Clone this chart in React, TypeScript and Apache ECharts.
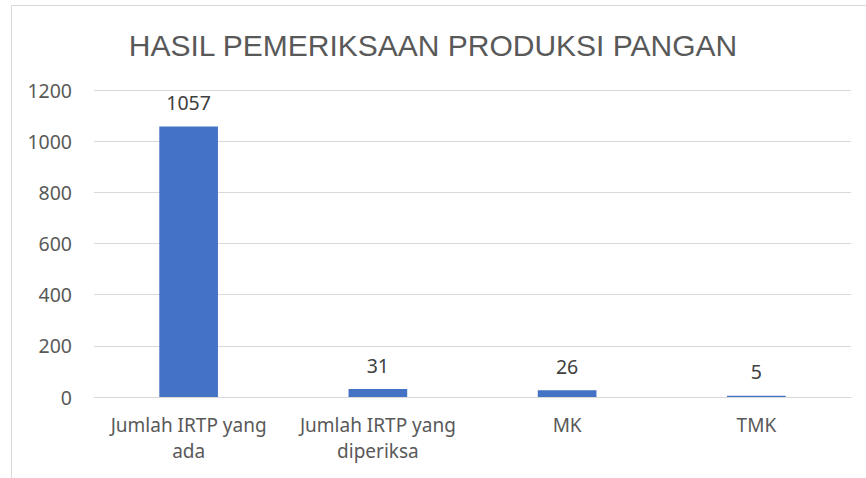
import React, { useEffect, useRef } from "react";
import * as echarts from "echarts";

const title = "HASIL PEMERIKSAAN PRODUKSI PANGAN";
const categories = ["Jumlah IRTP yang\nada", "Jumlah IRTP yang\ndiperiksa", "MK", "TMK"];
const values = [1057, 31, 26, 5];
const yTicks = [0, 200, 400, 600, 800, 1000, 1200];

export default function App() {
  const ref = useRef<HTMLDivElement>(null);
  useEffect(() => {
    const chart = echarts.init(ref.current!, null, { renderer: "svg" });
    chart.setOption({
      animation: false,
      backgroundColor: "#ffffff",
      title: {
        text: title,
        left: "center",
        top: 25,
        textStyle: {
          fontFamily: "Liberation Sans",
          fontSize: 30,
          fontWeight: "normal",
          color: "#595959",
        },
      },
      graphic: [
        { type: "line", shape: { x1: 11.5, y1: 5.5, x2: 866, y2: 5.5 }, style: { stroke: "#d9d9d9", lineWidth: 1 } },
        { type: "line", shape: { x1: 11.5, y1: 5.5, x2: 11.5, y2: 478 }, style: { stroke: "#d9d9d9", lineWidth: 1 } },
      ],
      grid: { left: 94, right: 15, top: 90, bottom: 81 },
      xAxis: {
        type: "category",
        data: categories,
        axisLine: { show: true, lineStyle: { color: "#d9d9d9", width: 1 } },
        axisTick: { show: false },
        axisLabel: {
          fontFamily: "Noto Sans",
          fontSize: 19,
          color: "#595959",
          margin: 15,
          lineHeight: 26,
          interval: 0,
        },
      },
      yAxis: {
        type: "value",
        min: yTicks[0],
        max: yTicks[yTicks.length - 1],
        interval: 200,
        axisLine: { show: false },
        axisTick: { show: false },
        splitLine: { lineStyle: { color: "#d9d9d9", width: 1 } },
        axisLabel: {
          fontFamily: "Noto Sans",
          fontSize: 19.5,
          color: "#595959",
          margin: 22,
          formatter: (v: number) => String(v),
        },
      },
      series: [
        {
          type: "bar",
          data: values,
          barWidth: "31%",
          itemStyle: { color: "#4472c4" },
          label: {
            show: true,
            position: "top",
            distance: 14,
            fontFamily: "Noto Sans",
            fontSize: 19.5,
            color: "#404040",
          },
        },
      ],
    });
    return () => chart.dispose();
  }, []);
  return <div ref={ref} style={{ position: "fixed", left: 0, top: 0, width: 866, height: 478 }} />;
}
